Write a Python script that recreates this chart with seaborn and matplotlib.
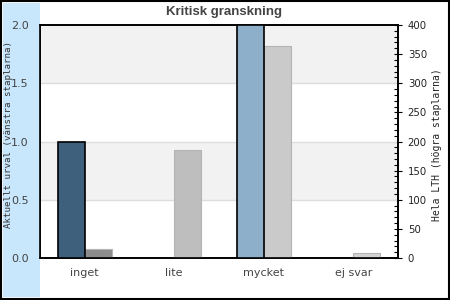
import matplotlib
matplotlib.use("Agg")
import matplotlib.pyplot as plt
import seaborn as sns
import pandas as pd
import numpy as np
from matplotlib.patches import Rectangle
from matplotlib.ticker import MultipleLocator

categories = ["inget", "lite", "mycket", "ej svar"]
left_values = [1.0, 0.0, 2.0, 0.0]        # Aktuellt urval
right_values = [15, 186, 364, 9]          # Hela LTH
left_colors = ["#3f607c", "#5b7d99", "#8eafc9", "#b5cde0"]
right_colors = ["#8c8c8c", "#bebebe", "#cacaca", "#d3d3d3"]
left_ticks = [0.0, 0.5, 1.0, 1.5, 2.0]
right_ticks = [0, 50, 100, 150, 200, 250, 300, 350, 400]

title = "Kritisk granskning"
left_label = "Aktuellt urval (vänstra staplarna)"
right_label = "Hela LTH (högra staplarna)"

sns.set_theme(style="white")
plt.rcParams["font.family"] = ["DejaVu Sans"]

fig = plt.figure(figsize=(4.5, 3.0), dpi=100)
fig.patch.set_facecolor("white")
fig.patches.append(Rectangle((3 / 450, 3 / 300), 37 / 450, 294 / 300,
                             transform=fig.transFigure, facecolor="#c8e7fc",
                             edgecolor="none", zorder=0))
fig.patches.append(Rectangle((0.8 / 450, 0.8 / 300), 448.4 / 450, 298.4 / 300,
                             transform=fig.transFigure, facecolor="none",
                             edgecolor="black", linewidth=1.5, zorder=5))

ax = fig.add_axes([40 / 450, 1 - 258 / 300, 358 / 450, 233 / 300])
ax2 = ax.twinx()

series = ["vänster", "höger"]
df_left = pd.DataFrame({
    "kategori": categories * 2,
    "serie": [series[0]] * 4 + [series[1]] * 4,
    "värde": left_values + [np.nan] * 4,
})
df_right = pd.DataFrame({
    "kategori": categories * 2,
    "serie": [series[0]] * 4 + [series[1]] * 4,
    "värde": [np.nan] * 4 + right_values,
})

sns.barplot(data=df_left, x="kategori", y="värde", hue="serie", hue_order=series,
            order=categories, dodge=True, width=0.6, ax=ax, legend=False,
            errorbar=None, zorder=3)
sns.barplot(data=df_right, x="kategori", y="värde", hue="serie", hue_order=series,
            order=categories, dodge=True, width=0.6, ax=ax2, legend=False,
            errorbar=None, zorder=3)

for p in ax.patches:
    cx = p.get_x() + p.get_width() / 2
    i = int(round(cx))
    if 0 <= i < 4 and cx < i:
        p.set_facecolor(left_colors[i])
        p.set_edgecolor("black")
        p.set_linewidth(1.2)
        if p.get_height() == 0:
            p.set_visible(False)
for p in ax2.patches:
    cx = p.get_x() + p.get_width() / 2
    i = int(round(cx))
    if 0 <= i < 4 and cx > i:
        p.set_facecolor(right_colors[i])
        p.set_edgecolor("#b4b4b4")
        p.set_linewidth(0.8)

ax.set_xlim(-0.5, 3.5)
ax.set_ylim(0, 2.0)
ax2.set_ylim(0, 400)

# background bands and grid on the lower (right-scale) axes
for lo, hi in [(300, 400), (100, 200)]:
    ax2.axhspan(lo, hi, color="#f2f2f2", zorder=0, lw=0)
for y in [100, 200, 300]:
    ax2.axhline(y, color="#dddddd", lw=1, zorder=1)

ax.set_yticks(left_ticks)
ax.set_yticklabels([f"{t:.1f}" for t in left_ticks])
ax.tick_params(axis="y", length=0, pad=8, labelsize=8, labelcolor="#444444")
ax.tick_params(axis="x", length=0, pad=7, labelsize=8, labelcolor="#444444")
ax.set_xlabel("")
ax.set_ylabel(left_label, family="DejaVu Sans Mono", fontsize=6.6, color="#333333")
ax.yaxis.set_label_coords(-27 / 358, (258 - 134) / 233)

ax2.set_yticks(right_ticks)
ax2.yaxis.set_minor_locator(MultipleLocator(10))
ax2.tick_params(axis="y", which="major", direction="inout", length=6, width=0.8,
                color="black", labelsize=7.3, pad=4, labelcolor="#222222", right=True)
ax2.tick_params(axis="y", which="minor", direction="in", length=3, width=0.8,
                color="black", right=True)
ax2.set_ylabel(right_label, family="DejaVu Sans Mono", fontsize=7, color="#222222")
ax2.yaxis.set_label_coords((432 - 40) / 358, (258 - 145) / 233)
ax2.set_xlabel("")

for a in (ax, ax2):
    for s in a.spines.values():
        s.set_color("black")
        s.set_linewidth(1.2)
        s.set_visible(True)

ax.set_zorder(ax2.get_zorder() + 1)
ax.patch.set_visible(False)
ax2.set_facecolor("white")

fig.text(224 / 450, 1 - 12 / 300, title, ha="center", va="center",
         fontsize=9.5, fontweight="bold", color="#444444",
         family="Liberation Sans")

fig.savefig("out.png", dpi=100)
